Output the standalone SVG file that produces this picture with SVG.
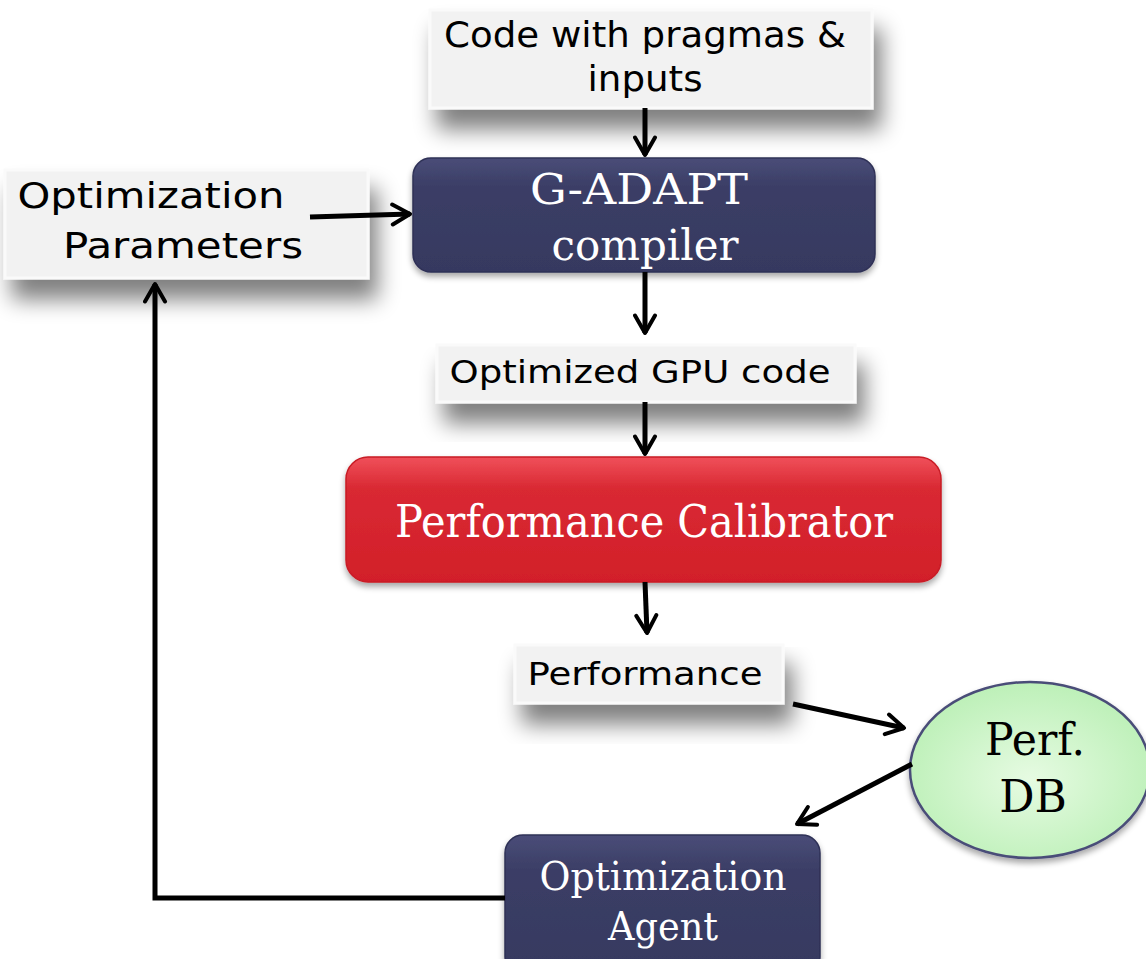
<svg xmlns="http://www.w3.org/2000/svg" width="1146" height="959" viewBox="0 0 1146 959">
<defs>
<filter id="sh" x="-20%" y="-30%" width="140%" height="200%">
<feGaussianBlur in="SourceAlpha" stdDeviation="11"/>
<feOffset dx="8" dy="20" result="b"/>
<feComponentTransfer><feFuncA type="linear" slope="0.5"/></feComponentTransfer>
<feMerge><feMergeNode/><feMergeNode in="SourceGraphic"/></feMerge>
</filter>
<filter id="sh2" x="-10%" y="-10%" width="120%" height="130%">
<feGaussianBlur in="SourceAlpha" stdDeviation="3"/>
<feOffset dx="0" dy="4"/>
<feComponentTransfer><feFuncA type="linear" slope="0.35"/></feComponentTransfer>
<feMerge><feMergeNode/><feMergeNode in="SourceGraphic"/></feMerge>
</filter>
<linearGradient id="navy" x1="0" y1="0" x2="0" y2="1">
<stop offset="0" stop-color="#4a4d78"/><stop offset="0.25" stop-color="#3b3e66"/><stop offset="1" stop-color="#363960"/>
</linearGradient>
<linearGradient id="red" x1="0" y1="0" x2="0" y2="1">
<stop offset="0" stop-color="#f0505a"/><stop offset="0.25" stop-color="#d92933"/><stop offset="1" stop-color="#d21f29"/>
</linearGradient>
<radialGradient id="green" cx="0.5" cy="0.55" r="0.6">
<stop offset="0" stop-color="#e6fbe2"/><stop offset="1" stop-color="#b9efb4"/>
</radialGradient>
<marker id="ah" viewBox="0 0 10 10" refX="8" refY="5" markerWidth="5" markerHeight="5" orient="auto" markerUnits="strokeWidth">
<path d="M1,1 L8,5 L1,9" fill="none" stroke="#000" stroke-width="1.6" stroke-linecap="round" stroke-linejoin="round"/>
</marker>
<style>
.lbl{fill:#f2f2f2;stroke:#fafafa;stroke-width:3;}
.sans{font-family:"DejaVu Sans","Verdana",sans-serif;fill:#000;text-anchor:middle;}
.ser{font-family:"DejaVu Serif","Liberation Serif",serif;fill:#fff;text-anchor:middle;}
.c{fill:none;stroke:#000;stroke-width:5;marker-end:url(#ah);}
</style>
</defs>

<g id="code-input">
<rect x="430" y="10" width="442" height="98" class="lbl" filter="url(#sh)"/>
<text class="sans" x="645" y="47" font-size="35" textLength="402" lengthAdjust="spacingAndGlyphs">Code with pragmas &amp;</text>
<text class="sans" x="645" y="91" font-size="35" textLength="115" lengthAdjust="spacingAndGlyphs">inputs</text>
</g>

<g id="opt-params">
<rect x="5" y="170" width="363" height="108" class="lbl" filter="url(#sh)"/>
<text class="sans" x="151" y="208" font-size="36" textLength="267" lengthAdjust="spacingAndGlyphs">Optimization</text>
<text class="sans" x="183" y="258" font-size="36" textLength="240" lengthAdjust="spacingAndGlyphs">Parameters</text>
</g>

<g id="gadapt">
<rect x="413" y="158" width="462" height="114" rx="18" fill="url(#navy)" stroke="#2e3056" stroke-width="1.5" filter="url(#sh2)"/>
<text class="ser" x="639" y="204" font-size="42" textLength="218" lengthAdjust="spacingAndGlyphs">G-ADAPT</text>
<text class="ser" x="645" y="260" font-size="42" textLength="187" lengthAdjust="spacingAndGlyphs">compiler</text>
</g>

<g id="gpu-code">
<rect x="437" y="345" width="418" height="57" class="lbl" filter="url(#sh)"/>
<text class="sans" x="640" y="383" font-size="32" textLength="381" lengthAdjust="spacingAndGlyphs">Optimized GPU code</text>
</g>

<g id="calibrator">
<rect x="346" y="457" width="595" height="125" rx="22" fill="url(#red)" stroke="#c81c25" stroke-width="1.5" filter="url(#sh2)"/>
<text class="ser" x="644" y="537" font-size="44" textLength="498" lengthAdjust="spacingAndGlyphs">Performance Calibrator</text>
</g>

<g id="performance">
<rect x="515" y="645" width="268" height="58" class="lbl" filter="url(#sh)"/>
<text class="sans" x="645" y="685" font-size="32" textLength="235" lengthAdjust="spacingAndGlyphs">Performance</text>
</g>

<g id="perfdb">
<ellipse cx="1030" cy="770" rx="120" ry="88" fill="url(#green)" stroke="#4a4d78" stroke-width="2.5" filter="url(#sh2)"/>
<text class="ser" x="1035" y="755" font-size="44" style="fill:#000" textLength="100" lengthAdjust="spacingAndGlyphs">Perf.</text>
<text class="ser" x="1033" y="812" font-size="44" style="fill:#000">DB</text>
</g>

<g id="agent">
<rect x="505" y="835" width="315" height="140" rx="18" fill="url(#navy)" stroke="#2e3056" stroke-width="1.5" filter="url(#sh2)"/>
<text class="ser" x="663" y="890" font-size="40" textLength="247" lengthAdjust="spacingAndGlyphs">Optimization</text>
<text class="ser" x="663" y="940" font-size="40" textLength="110" lengthAdjust="spacingAndGlyphs">Agent</text>
</g>

<g id="connectors">
<path class="c" d="M645,108 L645,155"/>
<path class="c" d="M310,217 L410,214"/>
<path class="c" d="M645,272 L645,333"/>
<path class="c" d="M645,402 L645,454"/>
<path class="c" d="M645,582 L647,633"/>
<path class="c" d="M793,704 L904,728"/>
<path class="c" d="M912,764 L797,824"/>
<path class="c" d="M505,898 L155,898 L155,284"/>
</g>
</svg>
